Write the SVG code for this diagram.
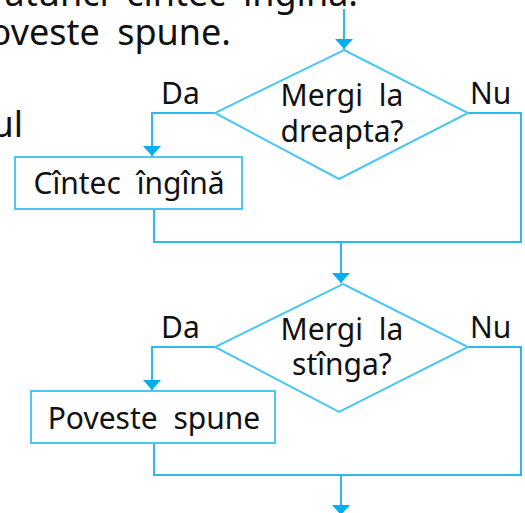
<svg xmlns="http://www.w3.org/2000/svg" width="525" height="513" viewBox="0 0 525 513">
<style>
.t{font-family:"Noto Sans","Open Sans","Liberation Sans",sans-serif;font-size:30px;fill:#111;word-spacing:8px}
.b{font-size:36px;text-anchor:end}
.c{text-anchor:middle}
.ln{fill:none;stroke:#2DB8EE;stroke-width:2}
.sh{fill:#fff;stroke:#4CC6F2;stroke-width:2}
</style>
<defs>
<marker id="ah" viewBox="0 0 10 18" refX="10" refY="9" markerWidth="10" markerHeight="18" markerUnits="userSpaceOnUse" orient="auto">
<path d="M0,0 L10,9 L0,18 Z" fill="#00AEEF"/>
</marker>
</defs>
<rect width="525" height="513" fill="#fff"/>
<g id="bgtext">
<text class="t b" x="358" y="6">atunci cîntec îngînă.</text>
<text class="t b" x="231" y="45">oveste spune.</text>
<text class="t b" x="23" y="137">ul</text>
</g>
<g id="connectors">
<line class="ln" x1="344" y1="9" x2="344" y2="49" marker-end="url(#ah)"/>
<polyline class="ln" points="215,113 152,113 152,156" marker-end="url(#ah)"/>
<polyline class="ln" points="468,113 521,113 521,242 154,242 154,209"/>
<line class="ln" x1="341" y1="242" x2="341" y2="283" marker-end="url(#ah)"/>
<polyline class="ln" points="215,347 152,347 152,390" marker-end="url(#ah)"/>
<polyline class="ln" points="468,347 521,347 521,475 154,475 154,443"/>
<line class="ln" x1="341" y1="475" x2="341" y2="515" marker-end="url(#ah)"/>
</g>
<g id="dec1">
<polygon class="sh" points="344,50 468,113 339,179 215,113"/>
<text class="t c" x="342" y="106">Mergi la</text>
<text class="t c" x="342" y="142">dreapta?</text>
</g>
<g id="lbl1">
<text class="t" x="161" y="104">Da</text>
<text class="t" x="470" y="104">Nu</text>
</g>
<g id="box1">
<rect class="sh" x="15" y="157" width="227" height="52"/>
<text class="t c" x="129" y="194">Cîntec îngînă</text>
</g>
<g id="dec2">
<polygon class="sh" points="343,284 468,347 339,412 215,347"/>
<text class="t c" x="342" y="340">Mergi la</text>
<text class="t c" x="342" y="375">stînga?</text>
</g>
<g id="lbl2">
<text class="t" x="161" y="338">Da</text>
<text class="t" x="470" y="338">Nu</text>
</g>
<g id="box2">
<rect class="sh" x="31" y="391" width="244" height="52"/>
<text class="t c" x="154" y="429">Poveste spune</text>
</g>
</svg>
